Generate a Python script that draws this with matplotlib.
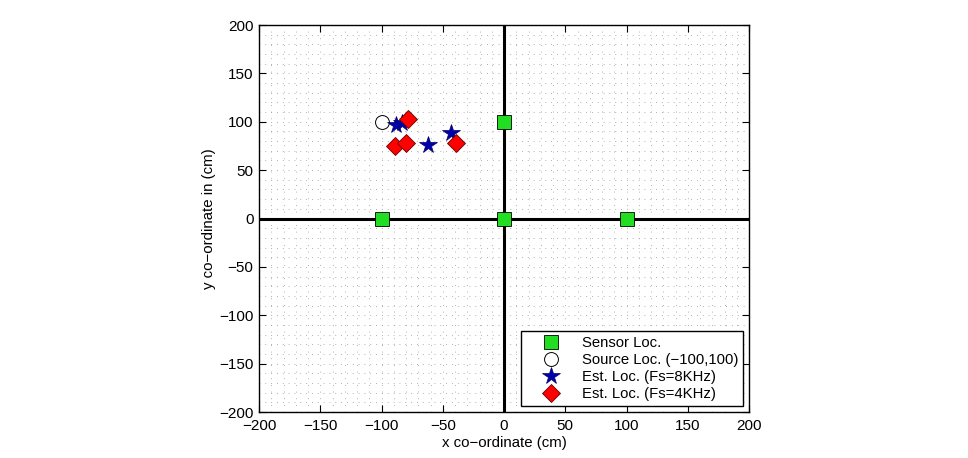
import numpy as np
import matplotlib
matplotlib.use('Agg')
import matplotlib.pyplot as plt
from matplotlib.ticker import MultipleLocator

plt.rcParams['font.family'] = ['Liberation Sans', 'DejaVu Sans']

# data (cm)
sensor_x = [-100, 0, 100, 0]
sensor_y = [0, 0, 0, 100]
source_x = [-100]
source_y = [100]
est8_x = [-88, -83, -62, -43]
est8_y = [97, 99, 76, 88]
est4_x = [-78, -89, -80, -39]
est4_y = [103, 75, 78, 78]

fig = plt.figure(figsize=(9.68, 4.58), dpi=100)
ax = fig.add_axes([0.2676, 0.1004, 0.5062, 0.845])

ax.axhline(0, color='k', lw=2.2, zorder=2)
ax.axvline(0, color='k', lw=2.2, zorder=2)

ax.plot(sensor_x, sensor_y, 's', ms=10, mfc='#22dd22', mec='k', mew=0.6,
        ls='none', label='Sensor Loc.', zorder=3)
ax.plot(source_x, source_y, 'o', ms=10, mfc='white', mec='k', mew=0.7,
        ls='none', label='Source Loc. (\u2212100,100)', zorder=3)
ax.plot(est8_x, est8_y, '*', ms=13, mfc='#0000aa', mec='#000066', mew=0.5,
        ls='none', label='Est. Loc. (Fs=8KHz)', zorder=4)
ax.plot(est4_x, est4_y, 'D', ms=9, mfc='red', mec='#660000', mew=0.6,
        ls='none', label='Est. Loc. (Fs=4KHz)', zorder=4)

ax.set_xlim(-200, 200)
ax.set_ylim(-200, 200)
ax.xaxis.set_major_locator(MultipleLocator(50))
ax.yaxis.set_major_locator(MultipleLocator(50))
ax.xaxis.set_minor_locator(MultipleLocator(10))
ax.yaxis.set_minor_locator(MultipleLocator(10))
# sparse dotted grid like matlab
ax.grid(which='both', axis='x', color='#999999', ls=(0, (1, 7)), lw=0.6)
ax.grid(which='both', axis='y', color='#999999', ls=(0, (1, 6)), lw=0.6)
ax.tick_params(which='major', direction='in', top=True, right=True,
               length=5, labelsize=11, width=0.8)
ax.tick_params(axis='x', pad=5)
ax.tick_params(axis='y', pad=4)
ax.tick_params(which='minor', length=0)
for s in ax.spines.values():
    s.set_linewidth(1.0)

ax.set_xlabel('x co\u2212ordinate (cm)', fontsize=10.8, labelpad=2)
ax.set_ylabel('y co\u2212ordinate in (cm)', fontsize=10.8, labelpad=2)

leg = ax.legend(loc='lower right', fontsize=10.7, frameon=True, fancybox=False,
                edgecolor='k', framealpha=1, borderpad=0.35, labelspacing=0.2,
                handlelength=3.4, handletextpad=0.35, borderaxespad=0.4,
                numpoints=1)
leg.get_frame().set_linewidth(1.0)

fig.savefig('out.png', dpi=100)
